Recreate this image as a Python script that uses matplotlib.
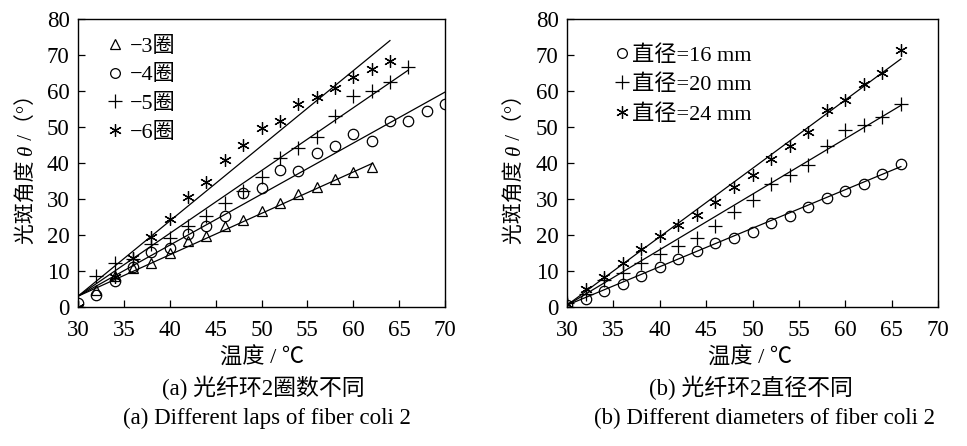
import matplotlib
matplotlib.use("Agg")
import matplotlib.pyplot as plt
from matplotlib.lines import Line2D

plt.rcParams['font.family'] = ['Liberation Serif', 'Noto Sans CJK SC', 'DejaVu Sans']

# ---------- data: panel (a) ----------
x3 = [32, 34, 36, 38, 40, 42, 44, 46, 48, 50, 52, 54, 56, 58, 60, 62]
y3 = [4.6, 8.5, 10.9, 12.3, 15.1, 18.4, 19.8, 22.5, 24.1, 26.6, 29.0, 31.4, 33.4, 35.6, 37.4, 38.9]
x4 = [30, 32, 34, 36, 38, 40, 42, 44, 46, 48, 50, 52, 54, 56, 58, 60, 62, 64, 66, 68, 70]
y4 = [1.2, 3.3, 7.1, 11.1, 15.3, 16.5, 20.2, 22.6, 25.2, 31.6, 33.1, 38.1, 37.7, 42.7, 44.8, 48.1, 46.1, 51.7, 51.7, 54.5, 56.4]
x5 = [32, 34, 36, 38, 40, 42, 44, 46, 48, 50, 52, 54, 56, 58, 60, 62, 64, 66]
y5 = [8.6, 12.1, 13.3, 17.4, 19.3, 22.6, 25.2, 29.0, 32.3, 36.2, 41.5, 44.1, 47.3, 53.1, 58.7, 59.9, 62.6, 66.8]
x6 = [30, 34, 36, 38, 40, 42, 44, 46, 48, 50, 52, 54, 56, 58, 60, 62, 64]
y6 = [0.0, 8.4, 13.7, 19.5, 24.4, 30.5, 34.8, 40.8, 45.0, 49.7, 51.7, 56.3, 58.3, 60.8, 63.8, 66.2, 68.4]
# fitted lines (start / end points)
fa_x = {'3': [30, 62], '4': [30, 70], '5': [30, 66], '6': [30, 64]}
fa_y = {'3': [3.0, 39.8], '4': [3.0, 59.7], '5': [3.0, 65.8], '6': [3.0, 74.0]}
labels_a = ['−3圈', '−4圈', '−5圈', '−6圈']

# ---------- data: panel (b) ----------
xb16 = [30, 32, 34, 36, 38, 40, 42, 44, 46, 48, 50, 52, 54, 56, 58, 60, 62, 64, 66]
yb16 = [0.5, 2.1, 4.4, 6.5, 8.7, 11.0, 13.2, 15.6, 17.9, 19.3, 20.9, 23.4, 25.2, 27.7, 30.4, 32.3, 34.3, 36.9, 39.6]
xb20 = [30, 32, 34, 36, 38, 40, 42, 44, 46, 48, 50, 52, 54, 56, 58, 60, 62, 64, 66]
yb20 = [1.0, 3.7, 7.5, 9.5, 12.3, 14.8, 16.9, 19.3, 22.6, 26.3, 29.7, 34.2, 36.7, 39.4, 44.7, 49.2, 50.6, 52.7, 56.3]
xb24 = [30, 32, 34, 36, 38, 40, 42, 44, 46, 48, 50, 52, 54, 56, 58, 60, 62, 64, 66]
yb24 = [0.9, 5.1, 8.4, 12.1, 16.2, 19.8, 22.7, 25.5, 29.2, 33.4, 36.8, 41.1, 44.8, 48.5, 54.8, 57.5, 61.9, 65.0, 71.5]
fb_x = {'16': [30, 66], '20': [30, 66], '24': [30, 66]}
fb_y = {'16': [0.5, 39.0], '20': [0.5, 56.0], '24': [0.5, 68.9]}
labels_b = ['直径=16 mm', '直径=20 mm', '直径=24 mm']

xticks = [30, 35, 40, 45, 50, 55, 60, 65, 70]
yticks = [0, 10, 20, 30, 40, 50, 60, 70, 80]
ylabel_parts = ['光斑角度 ', 'θ', ' /（°）']

W, H = 967, 446
fig = plt.figure(figsize=(W / 100, H / 100), dpi=100)

def px_axes(l, t, r, b):
    return fig.add_axes([l / W, 1 - b / H, (r - l) / W, (b - t) / H])

axa = px_axes(78, 19, 445, 307)
axb = px_axes(567, 19, 938, 307)

AST = (6, 2, 0)
common = dict(linestyle='none', color='black', mfc='none', mew=0.9)

def style(ax):
    ax.set_xlim(30, 70)
    ax.set_ylim(0, 80)
    ax.set_xticks(xticks)
    ax.set_yticks(yticks)
    ax.tick_params(direction='in', length=5, width=0.9, labelsize=16.5,
                   top=False, right=False)
    ax.tick_params(axis='y', pad=6)
    ax.tick_params(axis='x', pad=9)
    for s in ax.spines.values():
        s.set_linewidth(1.0)

# panel (a)
for k in ['3', '4', '5', '6']:
    axa.plot(fa_x[k], fa_y[k], color='black', lw=0.9)
axa.plot(x3, y3, marker='^', ms=7, **common)
axa.plot(x4, y4, marker='o', ms=7.5, **common)
axa.plot(x5, y5, marker='+', ms=10, **common)
axa.plot(x6, y6, marker=AST, ms=9, **common)
style(axa)
ha = [Line2D([], [], marker='^', ms=7, **common),
      Line2D([], [], marker='o', ms=7, **common),
      Line2D([], [], marker='+', ms=10, **common),
      Line2D([], [], marker=AST, ms=9, **common)]
axa.legend(ha, labels_a, loc='upper left', bbox_to_anchor=(0.07, 0.94),
           frameon=False, fontsize=16, handlelength=1.0, handletextpad=0.2,
           labelspacing=0.36, borderpad=0, borderaxespad=0)

# panel (b)
for k in ['16', '20', '24']:
    axb.plot(fb_x[k], fb_y[k], color='black', lw=0.9)
axb.plot(xb16, yb16, marker='o', ms=7.5, **common)
axb.plot(xb20, yb20, marker='+', ms=10, **common)
axb.plot(xb24, yb24, marker=AST, ms=9, **common)
style(axb)
hb = [Line2D([], [], marker='o', ms=7, **common),
      Line2D([], [], marker='+', ms=10, **common),
      Line2D([], [], marker=AST, ms=9, **common)]
axb.legend(hb, labels_b, loc='upper left', bbox_to_anchor=(0.125, 0.91),
           frameon=False, fontsize=16, handlelength=0.8, handletextpad=0.05,
           labelspacing=0.4, borderpad=0, borderaxespad=0)

def ftext(x, y, s, **kw):
    fig.text(x / W, 1 - y / H, s, ha='center', va='center', **kw)

ftext(262, 358, '温度 / ℃', fontsize=16)
ftext(750, 358, '温度 / ℃', fontsize=16)
ftext(263, 388, '(a) 光纤环2圈数不同', fontsize=16.5)
ftext(751, 388, '(b) 光纤环2直径不同', fontsize=16.5)
ftext(267, 418, '(a) Different laps of fiber coli 2', fontsize=16.5)
ftext(764, 418, '(b) Different diameters of fiber coli 2', fontsize=16.5)

# y labels built from three rotated pieces (italic theta)
renderer = fig.canvas.get_renderer()

def vlabel(xc, yc):
    texts = []
    for part in ylabel_parts:
        t = fig.text(xc / W, 0.5, part, rotation=90, ha='center', va='bottom',
                     fontsize=15, style='italic' if part == 'θ' else 'normal')
        texts.append(t)
    lens = [t.get_window_extent(renderer).height for t in texts]
    total = sum(lens)
    y0 = (H - yc) - total / 2.0
    for t, L in zip(texts, lens):
        t.set_y(y0 / H)
        y0 += L

vlabel(27, 164)
vlabel(515, 164)

fig.savefig('out.png', dpi=100)
